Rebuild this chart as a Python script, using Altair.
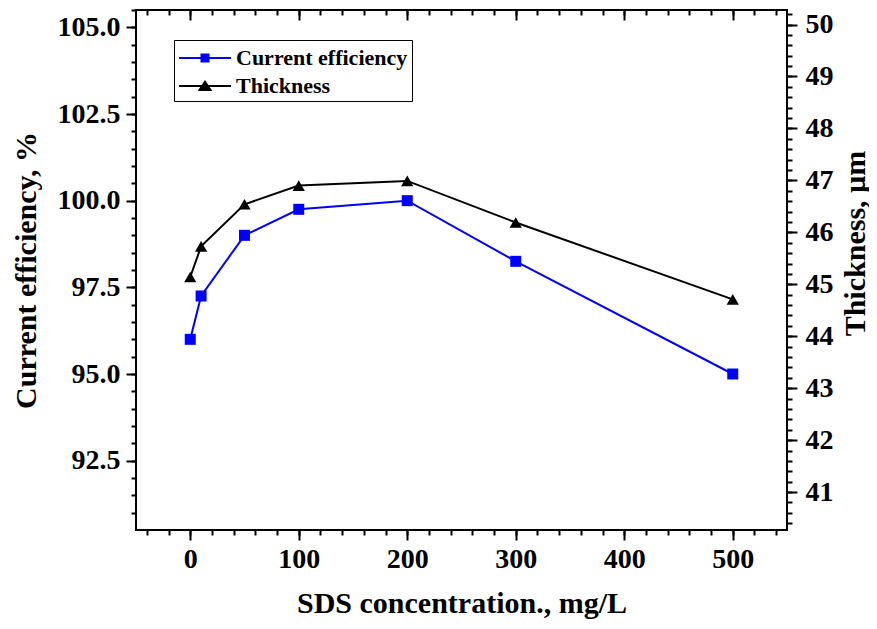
import altair as alt
import pandas as pd

# ---- data ----
sds = [0, 10, 50, 100, 200, 300, 500]
current_eff = [96.0, 97.25, 99.0, 99.75, 100.0, 98.25, 95.0]
thickness = [45.14, 45.73, 46.54, 46.90, 46.99, 46.19, 44.71]

series_names = ["Current efficiency", "Thickness"]
series_colors = ["#0000ff", "#000000"]

x_major = [0, 100, 200, 300, 400, 500]
x_minor = list(range(-40, 550, 20))
ce_major = [92.5, 95.0, 97.5, 100.0, 102.5, 105.0]
ce_minor = [round(91.0 + 0.5 * i, 1) for i in range(30)]
th_major = [41, 42, 43, 44, 45, 46, 47, 48, 49, 50]
th_minor = [round(40.4 + 0.2 * i, 1) for i in range(50)]

df = pd.DataFrame({"sds": sds, "ce": current_eff, "th": thickness})
leg_df = pd.DataFrame({"series": series_names})

X_DOM = [-50, 550]
CE_DOM = [90.5, 105.5]
TH_DOM = [40.27, 50.28]

FONT = "Liberation Serif"
W, H = 651, 520

xs = alt.Scale(domain=X_DOM, nice=False, zero=False)
ces = alt.Scale(domain=CE_DOM, nice=False, zero=False)
ths = alt.Scale(domain=TH_DOM, nice=False, zero=False)

common_axis = dict(domain=False, tickColor="black", tickWidth=2, grid=False,
                   labelFont=FONT, labelFontWeight="bold", labelFontSize=28,
                   labelColor="black", titleFont=FONT, titleFontWeight="bold",
                   titleFontSize=30, titleColor="black")

def minor_axis(orient, values, size, offset=0):
    return alt.Axis(orient=orient, values=values, tickSize=size, labels=False,
                    title=None, domain=False, tickColor="black", tickWidth=2,
                    grid=False, offset=offset)

base = alt.Chart(df)

ce_line = base.mark_line(color="#0000ff", strokeWidth=2).encode(
    x=alt.X("sds:Q", scale=xs, axis=alt.Axis(orient="bottom", values=x_major,
            tickSize=10, labelPadding=5, title="SDS concentration., mg/L",
            titlePadding=15, **common_axis)),
    y=alt.Y("ce:Q", scale=ces, axis=alt.Axis(orient="left", values=ce_major,
            tickSize=10, labelPadding=6, format=".1f",
            title="Current efficiency, %", titlePadding=16, **common_axis)),
)
ce_pts = base.mark_point(shape="square", filled=True, color="#0000ff",
                         size=121, opacity=1).encode(
    x=alt.X("sds:Q", scale=xs, axis=None),
    y=alt.Y("ce:Q", scale=ces, axis=None),
)
th_line = base.mark_line(color="#000000", strokeWidth=2).encode(
    x=alt.X("sds:Q", scale=xs, axis=None),
    y=alt.Y("th:Q", scale=ths, axis=alt.Axis(orient="right", values=th_major,
            tickSize=10, labelPadding=8, title="Thickness, µm",
            titleAngle=270, titleBaseline="top", titleY=233,
            titlePadding=7, **common_axis)),
)
th_pts = base.mark_point(shape="triangle-up", filled=True, color="#000000",
                         size=150, opacity=1).encode(
    x=alt.X("sds:Q", scale=xs, axis=None),
    y=alt.Y("th:Q", scale=ths, axis=None),
)

minor1 = base.mark_point(opacity=0).encode(
    x=alt.X("sds:Q", scale=xs, axis=minor_axis("bottom", x_minor, 5)),
    y=alt.Y("ce:Q", scale=ces, axis=minor_axis("left", ce_minor, 5)),
)
minor2 = base.mark_point(opacity=0).encode(
    x=alt.X("sds:Q", scale=xs, axis=minor_axis("top", x_major, 10, -10)),
    y=alt.Y("th:Q", scale=ths, axis=minor_axis("right", th_minor, 5)),
)
minor3 = base.mark_point(opacity=0).encode(
    x=alt.X("sds:Q", scale=xs, axis=minor_axis("top", x_minor, 5, -5)),
    y=alt.Y("ce:Q", scale=ces, axis=None),
)

legend_paths = [
    "M-1,0H3M0.73,-0.27H1.27V0.27H0.73Z",
    "M-1,0H3M1,-0.32L1.42,0.3H0.58Z",
]
legend_layer = alt.Chart(leg_df).transform_filter("false").mark_point(
    filled=True, size=676, strokeWidth=2).encode(
    fill=alt.Fill("series:N", scale=alt.Scale(domain=series_names, range=series_colors),
                  legend=alt.Legend(title=None)),
    stroke=alt.Stroke("series:N", scale=alt.Scale(domain=series_names, range=series_colors),
                      legend=alt.Legend(title=None)),
    shape=alt.Shape("series:N", scale=alt.Scale(domain=series_names, range=legend_paths),
                    legend=alt.Legend(title=None)),
)

chart = alt.layer(
    ce_line, th_line, ce_pts, th_pts, minor1, minor2, minor3, legend_layer
).resolve_scale(
    x="independent", y="independent"
).properties(
    width=W, height=H,
    autosize=alt.AutoSizeParams(type="none"),
    padding={"left": 128, "top": 2, "right": 82, "bottom": 91},
).configure_view(
    stroke="black", strokeWidth=2
).configure_legend(
    orient="none", legendX=38, legendY=30,
    strokeColor="black", strokeWidth=1, fillColor="white",
    padding=4, labelFont=FONT, labelFontWeight="bold", labelFontSize=22,
    labelColor="black", symbolSize=676, symbolStrokeWidth=2,
    symbolOpacity=1, rowPadding=3, labelOffset=30, labelLimit=400,
)

chart.save("out.html", embed_options={"renderer": "svg", "actions": False})
